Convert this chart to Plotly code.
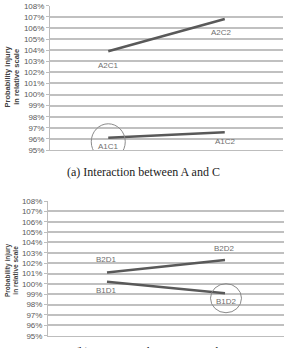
import plotly.graph_objects as go

# Data
x_ac = ["C1", "C2"]
a1 = [0.961, 0.966]
a2 = [1.039, 1.068]
lab_a1 = ["A1C1", "A1C2"]
lab_a2 = ["A2C1", "A2C2"]

x_bd = ["D1", "D2"]
b1 = [1.002, 0.991]
b2 = [1.011, 1.023]
lab_b1 = ["B1D1", "B1D2"]
lab_b2 = ["B2D1", "B2D2"]

tick_text_fmt = ".0%"

W, H = 285, 348
LINE = "#595959"
GRID = "#c0c0c0"
LBL = "#6e6e6e"

fig = go.Figure()
# invisible carriers for the grid-only overlay axes
fig.add_trace(go.Scatter(x=x_ac, y=a1, mode="lines", opacity=0, hoverinfo="skip", xaxis="x", yaxis="y3", showlegend=False))
fig.add_trace(go.Scatter(x=x_bd, y=b1, mode="lines", opacity=0, hoverinfo="skip", xaxis="x2", yaxis="y4", showlegend=False))

fig.add_trace(go.Scatter(x=x_ac, y=a2, mode="lines", line=dict(color=LINE, width=2.5), xaxis="x", yaxis="y", showlegend=False))
fig.add_trace(go.Scatter(x=x_ac, y=a1, mode="lines", line=dict(color=LINE, width=2.5), xaxis="x", yaxis="y", showlegend=False))
fig.add_trace(go.Scatter(x=x_bd, y=b2, mode="lines", line=dict(color=LINE, width=2.5), xaxis="x2", yaxis="y2", showlegend=False))
fig.add_trace(go.Scatter(x=x_bd, y=b1, mode="lines", line=dict(color=LINE, width=2.5), xaxis="x2", yaxis="y2", showlegend=False))

def yax(domain, anchor):
    return dict(domain=domain, anchor=anchor, range=[0.95, 1.08], tick0=0.95, dtick=0.01, tickformat=tick_text_fmt,
                showgrid=False, showline=True, linecolor="#bdbdbd", linewidth=1,
                ticks="outside", ticklen=3, tickcolor="#bdbdbd", zeroline=False,
                tickfont=dict(family="Liberation Sans, Arial", size=8, color="#595959"))

def gridax(over, anchor):
    return dict(overlaying=over, anchor=anchor, side="left", range=[0.95, 1.08], dtick=0.01,
                showgrid=True, gridcolor=GRID, gridwidth=1.5, showticklabels=False)

def xax(domain, anchor):
    return dict(domain=domain, anchor=anchor, range=[-0.5, 1.5], showticklabels=False, showgrid=False,
                showline=True, linecolor="#bdbdbd", linewidth=1, zeroline=False, ticks="")

annotations = []
def lab(text, xi, yv, xref, yref, xs, ys):
    annotations.append(dict(text=text, x=xi, y=yv, xref=xref, yref=yref, showarrow=False, xshift=xs, yshift=ys,
                            xanchor="center", yanchor="middle",
                            font=dict(family="Liberation Sans, Arial", size=8, color=LBL)))

lab(lab_a2[0], 0, a2[0], "x", "y", 0, -14)
lab(lab_a2[1], 1, a2[1], "x", "y", -3, -13)
lab(lab_a1[0], 0, a1[0], "x", "y", 0, -9)
lab(lab_a1[1], 1, a1[1], "x", "y", 1, -9)
lab(lab_b2[0], 0, b2[0], "x2", "y2", -1, 13)
lab(lab_b2[1], 1, b2[1], "x2", "y2", -1, 12)
lab(lab_b1[0], 0, b1[0], "x2", "y2", -1, -9)
lab(lab_b1[1], 1, b1[1], "x2", "y2", 1, -8)

for yc, fs in [(1 - 77 / H, 7.5), (1 - 270.5 / H, 6.5)]:
    annotations.append(dict(text="<b>Probability injury<br>in relative scale</b>", x=11.5 / W, y=yc, xref="paper", yref="paper",
                            showarrow=False, textangle=-90, xanchor="center", yanchor="middle",
                            font=dict(family="Liberation Sans, Arial", size=fs, color="#404040")))

annotations.append(dict(text="(a) Interaction between A and C", x=143 / W, y=1 - 172 / H, xref="paper", yref="paper",
                        showarrow=False, xanchor="center", yanchor="middle",
                        font=dict(family="Liberation Serif, Times New Roman", size=12, color="#222")))
annotations.append(dict(text="(b) Interaction between B and D", x=152 / W, y=1 - 352 / H, xref="paper", yref="paper",
                        showarrow=False, xanchor="center", yanchor="middle",
                        font=dict(family="Liberation Serif, Times New Roman", size=12, color="#222")))

shapes = [
    dict(type="circle", xref="x", yref="y", xsizemode="pixel", ysizemode="pixel", xanchor=0, yanchor=a1[0],
         x0=-17, x1=17, y0=-22, y1=14, line=dict(color="#8a8a8a", width=1)),
    dict(type="circle", xref="x2", yref="y2", xsizemode="pixel", ysizemode="pixel", xanchor=1, yanchor=b1[1],
         x0=-14.5, x1=16.5, y0=-19.5, y1=9.5, line=dict(color="#8a8a8a", width=1)),
]

fig.update_layout(
    template="none",
    width=W, height=H, margin=dict(l=0, r=0, t=0, b=0),
    xaxis=xax([50 / W, 283 / W], "y"),
    yaxis=yax([1 - 150 / H, 1 - 5.7 / H], "x"),
    xaxis2=xax([48 / W, 284 / W], "y2"),
    yaxis2=yax([1 - 335.7 / H, 1 - 201 / H], "x2"),
    yaxis3=gridax("y", "x"),
    yaxis4=gridax("y2", "x2"),
    annotations=annotations, shapes=shapes,
)

fig.write_html("out.html")
